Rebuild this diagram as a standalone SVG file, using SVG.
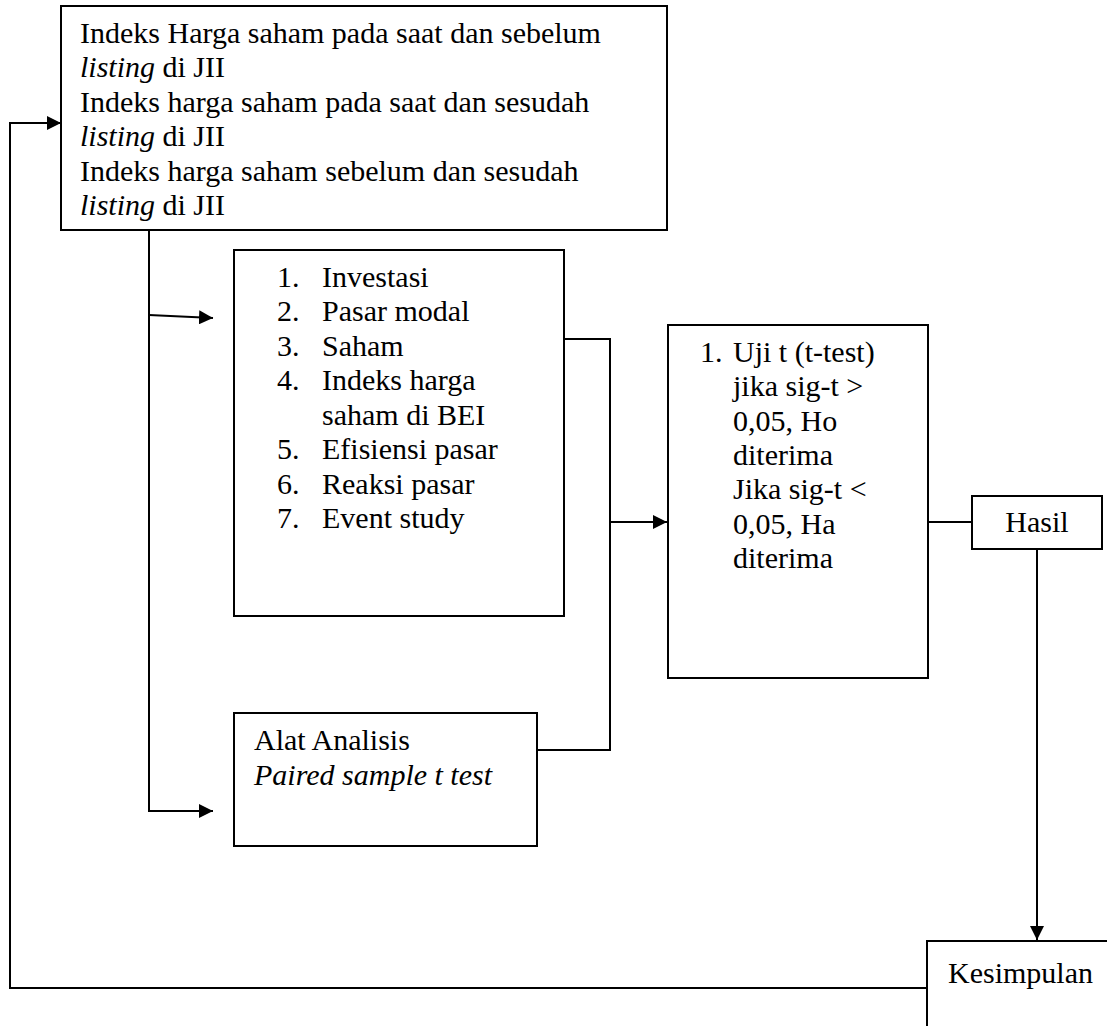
<svg xmlns="http://www.w3.org/2000/svg" width="1107" height="1026" viewBox="0 0 1107 1026">
<style>
text{font-family:"Liberation Serif","Times New Roman",serif;font-size:30px;fill:#000}
.i{font-style:italic}
.box{fill:#fff;stroke:#000;stroke-width:2}
.ln{fill:none;stroke:#000;stroke-width:2}
</style>
<defs>
<marker id="ah" viewBox="0 0 14 14" refX="14" refY="7" markerWidth="14" markerHeight="14" orient="auto" markerUnits="userSpaceOnUse">
<path d="M0,0 L14,7 L0,14 z" fill="#000"/>
</marker>
</defs>
<rect width="1107" height="1026" fill="#fff"/>
<g id="connectors">
<path class="ln" d="M927,988 H10 V123 H61" marker-end="url(#ah)"/>
<path class="ln" d="M149,231 V811 H213" marker-end="url(#ah)"/>
<path class="ln" d="M149,315 L213,318" marker-end="url(#ah)"/>
<path class="ln" d="M564,339 H610 V750 H537"/>
<path class="ln" d="M610,522 H667" marker-end="url(#ah)"/>
<path class="ln" d="M928,522 H972"/>
<path class="ln" d="M1037,549 V940" marker-end="url(#ah)"/>
</g>
<g id="node-indeks">
<rect class="box" x="61" y="6" width="606" height="224"/>
<text x="80" y="43">Indeks Harga saham pada saat dan sebelum</text>
<text x="80" y="77"><tspan class="i">listing</tspan> di JII</text>
<text x="80" y="112">Indeks harga saham pada saat dan sesudah</text>
<text x="80" y="146"><tspan class="i">listing</tspan> di JII</text>
<text x="80" y="181">Indeks harga saham sebelum dan sesudah</text>
<text x="80" y="215"><tspan class="i">listing</tspan> di JII</text>
</g>
<g id="node-teori">
<rect class="box" x="234" y="250" width="330" height="366"/>
<text x="277" y="287">1.</text><text x="322" y="287">Investasi</text>
<text x="277" y="321">2.</text><text x="322" y="321">Pasar modal</text>
<text x="277" y="356">3.</text><text x="322" y="356">Saham</text>
<text x="277" y="390">4.</text><text x="322" y="390">Indeks harga</text>
<text x="322" y="425">saham di BEI</text>
<text x="277" y="459">5.</text><text x="322" y="459">Efisiensi pasar</text>
<text x="277" y="494">6.</text><text x="322" y="494">Reaksi pasar</text>
<text x="277" y="528">7.</text><text x="322" y="528">Event study</text>
</g>
<g id="node-alat">
<rect class="box" x="234" y="713" width="303" height="133"/>
<text x="254" y="750">Alat Analisis</text>
<text x="254" y="785" class="i">Paired sample t test</text>
</g>
<g id="node-uji">
<rect class="box" x="668" y="325" width="260" height="353"/>
<text x="700" y="362">1.</text><text x="733" y="362">Uji t (t-test)</text>
<text x="733" y="396">jika sig-t &gt;</text>
<text x="733" y="431">0,05, Ho</text>
<text x="733" y="465">diterima</text>
<text x="733" y="499">Jika sig-t &lt;</text>
<text x="733" y="534">0,05, Ha</text>
<text x="733" y="568">diterima</text>
</g>
<g id="node-hasil">
<rect class="box" x="972" y="496" width="130" height="53"/>
<text x="1037" y="532" text-anchor="middle">Hasil</text>
</g>
<g id="node-kesimpulan">
<rect class="box" x="927" y="941" width="200" height="200"/>
<text x="948" y="983">Kesimpulan</text>
</g>
</svg>
